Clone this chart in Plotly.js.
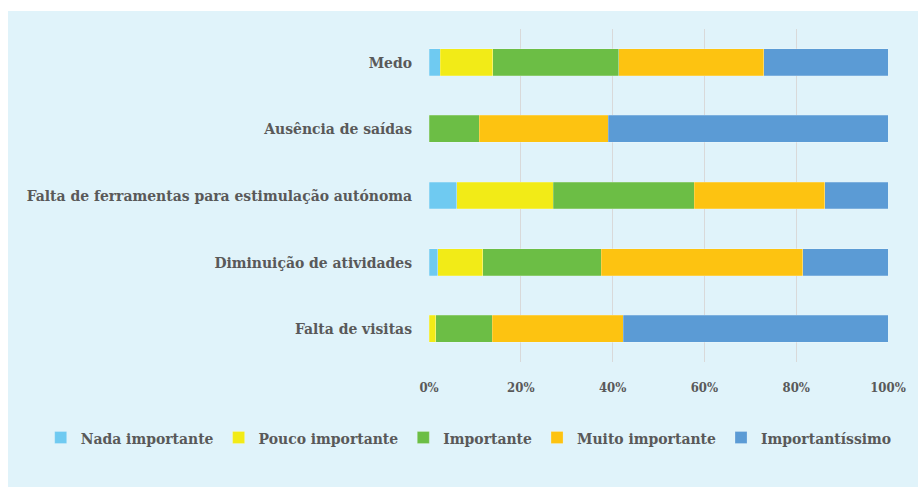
<!DOCTYPE html>
<html>
<head>
<meta charset="utf-8">
<script src="https://cdn.plot.ly/plotly-3.0.1.min.js"></script>
<style>
html,body{margin:0;padding:0;background:#ffffff;}
#chart{position:absolute;left:8px;top:11px;width:910px;height:476px;}
</style>
</head>
<body>
<div id="chart"></div>
<script>
const categories = ["Medo", "Ausência de saídas", "Falta de ferramentas para estimulação autónoma", "Diminuição de atividades", "Falta de visitas"];
const seriesNames = ["Nada importante", "Pouco importante", "Importante", "Muito importante", "Importantíssimo"];
const nadaImportante = [2.5, 0, 6.0, 1.9, 0];
const poucoImportante = [11.4, 0, 21.1, 9.8, 1.5];
const importante = [27.4, 10.9, 30.7, 25.8, 12.3];
const muitoImportante = [31.6, 28.2, 28.4, 43.9, 28.5];
const importantissimo = [27.1, 60.9, 13.8, 18.6, 57.7];
const tickVals = [0, 20, 40, 60, 80, 100];
const tickLabels = ["0%", "20%", "40%", "60%", "80%", "100%"];

const values = [nadaImportante, poucoImportante, importante, muitoImportante, importantissimo];
const colors = ["#6FCAF1", "#F2EB17", "#6CBE45", "#FDC311", "#5B9BD5"];
const font = "'DejaVu Serif Condensed', 'DejaVu Serif', serif";

const data = seriesNames.map((n, i) => ({
  type: "bar",
  orientation: "h",
  name: n,
  y: categories,
  x: values[i],
  marker: {color: colors[i], line: {color: "rgba(255,255,255,0.35)", width: 0.6}},
  hoverinfo: "name+x"
}));

const layout = {
  width: 910, height: 476,
  paper_bgcolor: "#E0F3FA",
  plot_bgcolor: "#E0F3FA",
  margin: {l: 421, r: 30, t: 18, b: 125},
  barmode: "stack",
  bargap: 0.595,
  showlegend: true,
  font: {family: font, color: "#595959"},
  xaxis: {
    range: [0, 100],
    tickvals: tickVals,
    ticktext: tickLabels,
    showgrid: true,
    gridcolor: "#D9D9D9",
    gridwidth: 1,
    zeroline: false,
    showline: false,
    ticks: "",
    ticklabelstandoff: 16,
    tickfont: {family: font, size: 13, color: "#595959", weight: "bold"},
    fixedrange: true
  },
  yaxis: {
    autorange: "reversed",
    showgrid: false,
    zeroline: false,
    showline: false,
    ticks: "",
    ticklabelstandoff: 16,
    tickfont: {family: font, size: 15.5, color: "#595959", weight: "bold"},
    fixedrange: true
  },
  legend: {
    orientation: "h",
    x: -0.846, xanchor: "left", xref: "paper",
    y: -0.228, yanchor: "middle", yref: "paper",
    traceorder: "normal",
    font: {family: font, size: 15.5, color: "#595959", weight: "bold"},
    itemwidth: 30,
    bgcolor: "rgba(0,0,0,0)"
  }
};

Plotly.newPlot("chart", data, layout, {displayModeBar: false, staticPlot: true});
</script>
</body>
</html>
